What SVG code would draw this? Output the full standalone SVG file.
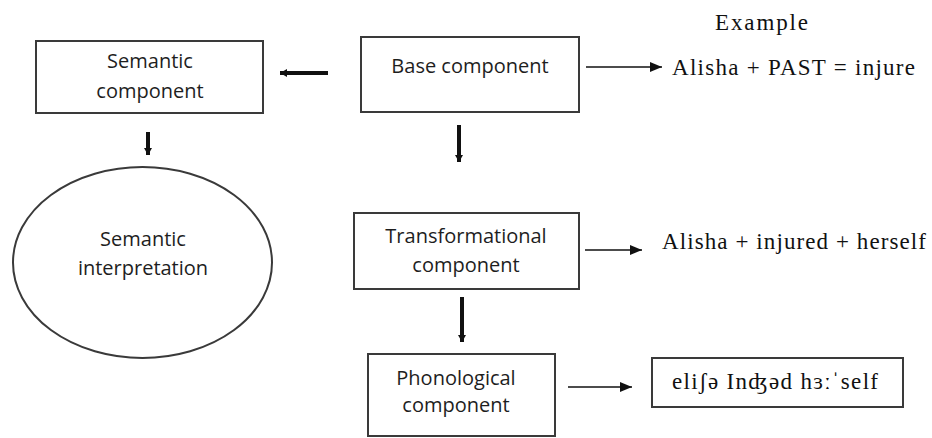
<svg xmlns="http://www.w3.org/2000/svg" width="932" height="438" viewBox="0 0 932 438">
<style>
.box{fill:#fff;stroke:#3a3a3a;stroke-width:2}
.sans{font-family:"Open Sans","DejaVu Sans",sans-serif;font-size:20px;fill:#1e1e1e;text-anchor:middle}
.serif{font-family:"Liberation Serif","DejaVu Serif",serif;font-size:23px;fill:#111}
.thin{stroke:#111;stroke-width:1.6;fill:none}
.thick{stroke:#111;stroke-width:4;fill:none}
</style>
<defs>
<marker id="ah" markerUnits="userSpaceOnUse" markerWidth="14" markerHeight="12" refX="12" refY="5" orient="auto">
<path d="M0,0 L12,5 L0,10 Z" fill="#111"/>
</marker>
<marker id="ahs" markerUnits="userSpaceOnUse" markerWidth="10" markerHeight="10" refX="7" refY="4" orient="auto">
<path d="M0,0 L7,4 L0,8 Z" fill="#111"/>
</marker>
</defs>
<rect width="932" height="438" fill="#fff"/>
<g id="semantic-component">
<rect class="box" x="36" y="41" width="227" height="72"/>
<text class="sans" x="150" y="68">Semantic</text>
<text class="sans" x="150" y="98">component</text>
</g>
<g id="base-component">
<rect class="box" x="361" y="37" width="218" height="75"/>
<text class="sans" x="470" y="73">Base component</text>
</g>
<g id="semantic-interpretation">
<ellipse class="box" cx="142.5" cy="262.5" rx="129.5" ry="95.5"/>
<text class="sans" x="143" y="246">Semantic</text>
<text class="sans" x="143" y="275">interpretation</text>
</g>
<g id="transformational-component">
<rect class="box" x="354" y="213" width="225" height="76"/>
<text class="sans" x="466" y="243">Transformational</text>
<text class="sans" x="466" y="272">component</text>
</g>
<g id="phonological-component">
<rect class="box" x="368" y="354" width="187" height="82"/>
<text class="sans" x="456" y="385">Phonological</text>
<text class="sans" x="456" y="412">component</text>
</g>
<g id="example-label">
<text class="serif" x="715" y="30" font-size="22" textLength="93">Example</text>
</g>
<g id="example-base">
<text class="serif" x="672" y="75" textLength="243">Alisha + PAST = injure</text>
</g>
<g id="example-transformational">
<text class="serif" x="662" y="249" textLength="264">Alisha + injured + herself</text>
</g>
<g id="example-phonological">
<rect class="box" x="652" y="358" width="251" height="49"/>
<text class="serif" x="672" y="389" textLength="206">eliʃə Inʤəd hɜːˈself</text>
</g>
<g id="connectors">
<line class="thin" x1="586" y1="67" x2="662" y2="67" marker-end="url(#ah)"/>
<line class="thin" x1="585" y1="250" x2="642" y2="250" marker-end="url(#ah)"/>
<line class="thin" x1="568" y1="387" x2="632" y2="387" marker-end="url(#ah)"/>
<line class="thick" x1="328" y1="73" x2="280" y2="73" marker-end="url(#ahs)"/>
<line class="thick" x1="148" y1="132" x2="148" y2="155" marker-end="url(#ahs)"/>
<line class="thick" x1="459" y1="125" x2="459" y2="162" marker-end="url(#ahs)"/>
<line class="thick" x1="462" y1="297" x2="462" y2="342" marker-end="url(#ahs)"/>
</g>
</svg>
